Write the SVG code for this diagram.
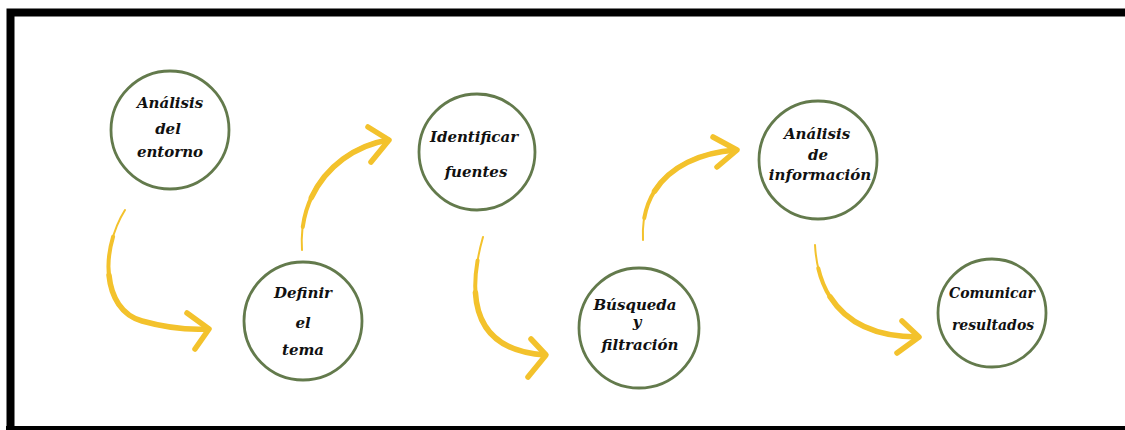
<svg xmlns="http://www.w3.org/2000/svg" width="1125" height="430" viewBox="0 0 1125 430">
<style>
.node circle{fill:#fff;stroke:#637a4c;stroke-width:2.8}
.node text{font-family:"DejaVu Serif","Liberation Serif",serif;font-weight:bold;font-style:italic;font-size:15px;fill:#111;text-anchor:middle}
.node text.sm{font-size:14px}
.arr path{fill:none;stroke:#f3c22c;stroke-linecap:round;stroke-linejoin:round}
.arr .w1{stroke-width:2}
.arr .w2{stroke-width:4;stroke-dasharray:85 15;stroke-dashoffset:85}
.arr .w3{stroke-width:5.5;stroke-dasharray:65 35;stroke-dashoffset:65}
.arr .head{stroke-width:5.5}
</style>
<rect x="0" y="0" width="1125" height="430" fill="#fff"/>
<path d="M1125,12.5 H10.5 V428" fill="none" stroke="#000" stroke-width="8"/>
<rect x="6" y="426" width="1119" height="4" fill="#000"/>
<g id="connectors" class="arr">
  <path class="w1" pathLength="100" d="M125,210 C100,250 102,310 142,321 C167,328 190,330 208,329"/>
  <path class="w2" pathLength="100" d="M125,210 C100,250 102,310 142,321 C167,328 190,330 208,329"/>
  <path class="w3" pathLength="100" d="M125,210 C100,250 102,310 142,321 C167,328 190,330 208,329"/>
  <path class="head" d="M187,313 L209,329 L195,349"/>

  <path class="w1" pathLength="100" d="M302,250 C298,190 340,148 388,140"/>
  <path class="w2" pathLength="100" d="M302,250 C298,190 340,148 388,140"/>
  <path class="w3" pathLength="100" d="M302,250 C298,190 340,148 388,140"/>
  <path class="head" d="M368,127 L389,140 L371,162"/>

  <path class="w1" pathLength="100" d="M483,237 C468,290 468,350 545,355"/>
  <path class="w2" pathLength="100" d="M483,237 C468,290 468,350 545,355"/>
  <path class="w3" pathLength="100" d="M483,237 C468,290 468,350 545,355"/>
  <path class="head" d="M531,339 L546,355 L528,377"/>

  <path class="w1" pathLength="100" d="M643,240 C640,185 680,154 736,150"/>
  <path class="w2" pathLength="100" d="M643,240 C640,185 680,154 736,150"/>
  <path class="w3" pathLength="100" d="M643,240 C640,185 680,154 736,150"/>
  <path class="head" d="M713,137 L737,150 L717,167"/>

  <path class="w1" pathLength="100" d="M815,245 C818,300 850,337 918,337"/>
  <path class="w2" pathLength="100" d="M815,245 C818,300 850,337 918,337"/>
  <path class="w3" pathLength="100" d="M815,245 C818,300 850,337 918,337"/>
  <path class="head" d="M902,321 L919,337 L897,353"/>
</g>
<g id="n1" class="node">
  <circle cx="170" cy="130" r="59"/>
  <text x="170" y="108">Análisis</text>
  <text x="168" y="134">del</text>
  <text x="170" y="157">entorno</text>
</g>
<g id="n2" class="node">
  <circle cx="303" cy="321" r="59"/>
  <text x="303" y="298">Definir</text>
  <text x="303" y="328">el</text>
  <text x="303" y="355">tema</text>
</g>
<g id="n3" class="node">
  <circle cx="477" cy="152" r="58"/>
  <text x="474" y="142">Identificar</text>
  <text x="476" y="177">fuentes</text>
</g>
<g id="n4" class="node">
  <circle cx="639" cy="328" r="60"/>
  <text x="635" y="310">Búsqueda</text>
  <text x="637" y="327">y</text>
  <text x="640" y="350">filtración</text>
</g>
<g id="n5" class="node">
  <circle cx="818" cy="160" r="59"/>
  <text x="817" y="139">Análisis</text>
  <text x="818" y="160">de</text>
  <text x="820" y="180">información</text>
</g>
<g id="n6" class="node">
  <circle cx="992" cy="313" r="54"/>
  <text class="sm" x="992" y="298">Comunicar</text>
  <text class="sm" x="993" y="330">resultados</text>
</g>
</svg>
